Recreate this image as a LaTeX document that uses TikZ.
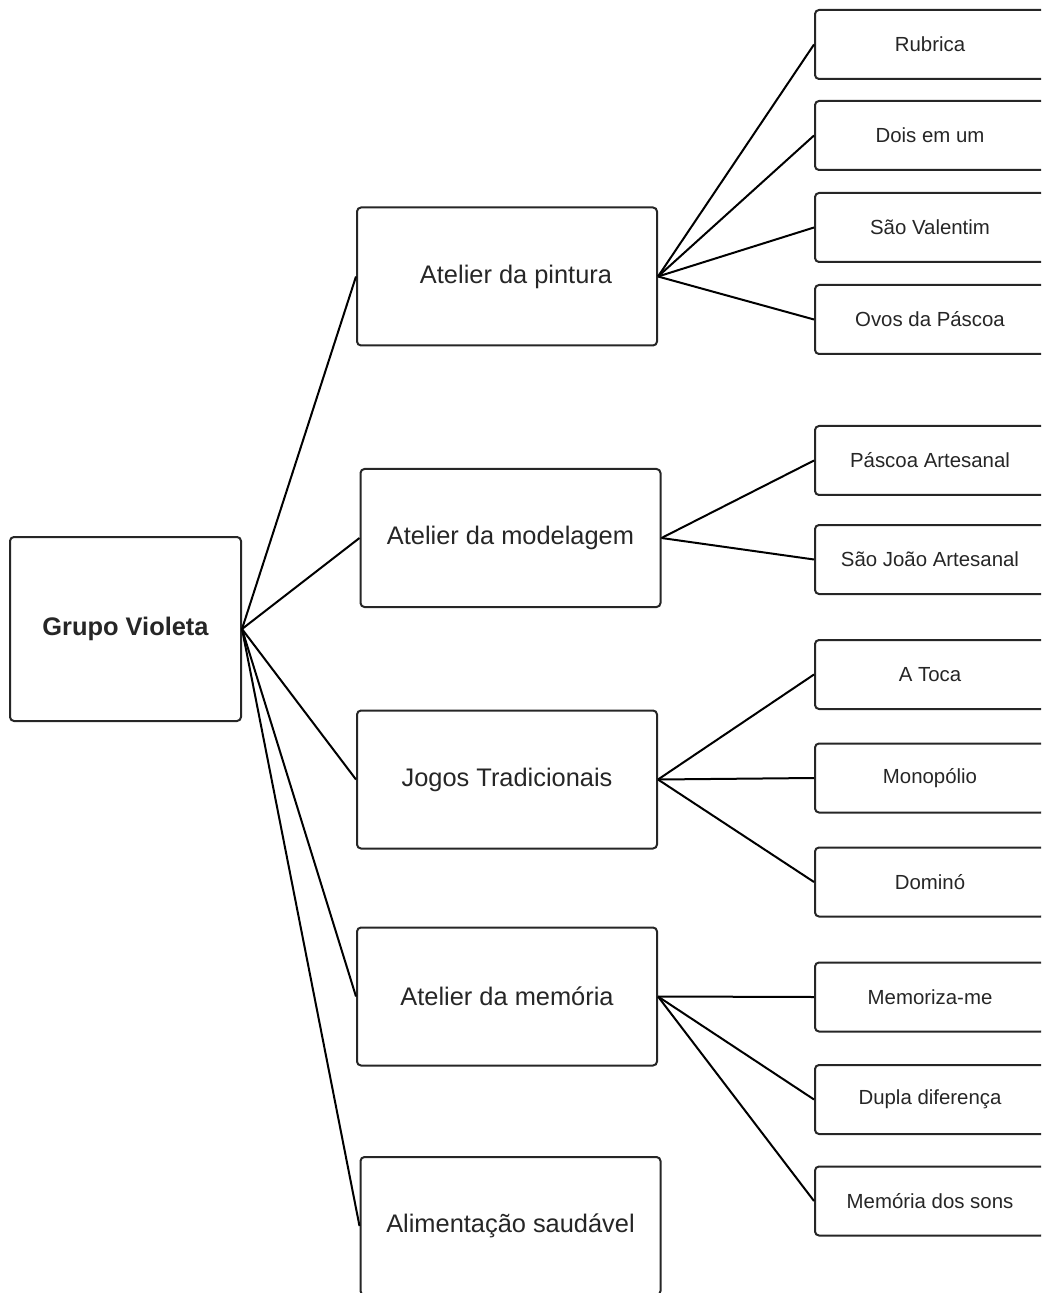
\documentclass[tikz,border=0pt]{standalone}
\usepackage{fontspec}
\setmainfont{Liberation Sans}

\tikzset{
    box/.style={draw=black!85, line width=1pt, rounded corners=2pt,
        fill=white, text=black!85},
    rootbox/.style={box, minimum width=115.5pt, minimum height=92pt,
        font=\bfseries\fontsize{12.7}{15}\selectfont},
    groupbox/.style={box, minimum width=150pt, minimum height=69pt,
        font=\fontsize{12.7}{15}\selectfont},
    leafbox/.style={box, minimum width=115pt, minimum height=34.5pt,
        font=\fontsize{10.2}{12}\selectfont},
    link/.style={line width=1pt, black}
}

\begin{document}
\begin{tikzpicture}[x=0.5pt, y=-0.5pt]
        \useasboundingbox (0, 0) rectangle (1041, 1293);
        \clip (0, 0) rectangle (1041, 1293);

        % The group itself
        \node[rootbox] (root) at (125.5, 629) {Grupo Violeta};

        % Workshops of the group
        \foreach \name/\x/\y/\label in {
            pintura/507/276.5/{\hspace*{9pt}Atelier da pintura},
            modelagem/510.5/538/Atelier da modelagem,
            jogos/507/779.5/Jogos Tradicionais,
            memoria/507/996.5/Atelier da memória,
            alimentacao/510.5/1226/Alimentação saudável}
        \node[groupbox] (\name) at (\x, \y) {\label};

        % Activities of each workshop
        \foreach \name/\y/\label in {
            rubrica/44.5/Rubrica,
            doisemum/135.5/Dois em um,
            valentim/227.5/São Valentim,
            ovos/319.5/Ovos da Páscoa,
            pascoa/460.5/Páscoa Artesanal,
            saojoao/559.5/São João Artesanal,
            toca/674.5/A Toca,
            monopolio/778/Monopólio,
            domino/882/Dominó,
            memorizame/997/Memoriza-me,
            dupla/1099.5/Dupla diferença,
            sons/1201/Memória dos sons}
        \node[leafbox] (\name) at (930, \y) {\label};

        % Connect the group to its workshops
        \foreach \g in {pintura, modelagem, jogos, memoria, alimentacao}
        \draw[link] (root.east) -- (\g.west);

        % Connect the workshops to their activities
        \foreach \g/\a in {
            pintura/rubrica, pintura/doisemum, pintura/valentim, pintura/ovos,
            modelagem/pascoa, modelagem/saojoao,
            jogos/toca, jogos/monopolio, jogos/domino,
            memoria/memorizame, memoria/dupla, memoria/sons}
        \draw[link] (\g.east) -- (\a.west);
    \end{tikzpicture}
\end{document}
